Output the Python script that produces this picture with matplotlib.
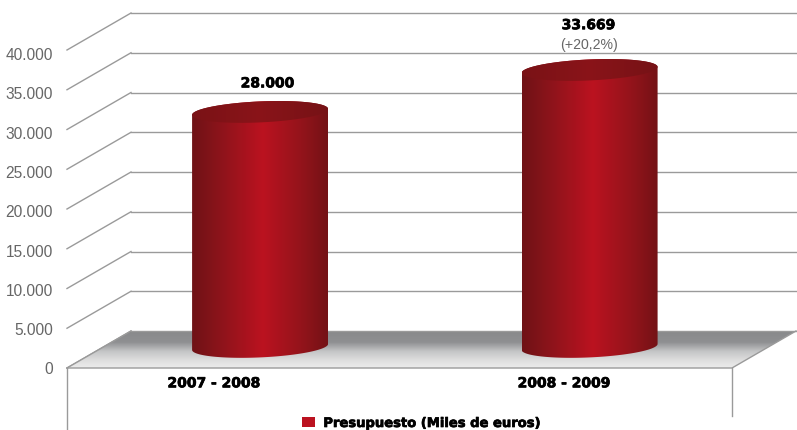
import numpy as np
import matplotlib
matplotlib.use("Agg")
import matplotlib.pyplot as plt
import matplotlib.patheffects as pe
from matplotlib.colors import LinearSegmentedColormap
from matplotlib.patches import Patch, Polygon
from matplotlib.transforms import ScaledTranslation

categories = ["2007 - 2008", "2008 - 2009"]
drawn_heights = [29560, 34840]
value_labels = ["28.000", "33.669"]
change_label = "(+20,2%)"
y_ticks = [0, 5000, 10000, 15000, 20000, 25000, 30000, 35000, 40000]
y_tick_labels = ["0", "5.000", "10.000", "15.000", "20.000", "25.000", "30.000", "35.000", "40.000"]
legend_label = "Presupuesto (Miles de euros)"

W, H = 797, 431
fig = plt.figure(figsize=(W / 100, H / 100), dpi=100)
ax = fig.add_axes([67 / W, (H - 369) / H, 665 / W, 318 / H])
ax.set_xlim(-0.5, 1.5)
ax.set_ylim(0, 40000)
for s in ax.spines.values():
    s.set_visible(False)
ax.patch.set_visible(False)

DX = 64 / 332.5      # depth projection, category units
DY = 37 / 0.00795    # depth projection, value units
GRID = "#9a9a9a"
xl, xr = -0.5, 1.5
heavy = [pe.withStroke(linewidth=0.5, foreground="black")]

# y axis
ax.set_yticks(y_ticks, y_tick_labels, fontfamily="Liberation Sans", fontsize=11.2, color="#666666")
ax.tick_params(axis="y", length=0, pad=10)
for v, lab in zip(y_ticks, ax.get_yticklabels()):
    lab.set_transform(lab.get_transform()
                      + ScaledTranslation(0, (0.5 - 3.5 * v / 40000) / 100, fig.dpi_scale_trans))
# category labels
ax.set_xticks([-0.058, 0.995], categories, fontfamily="DejaVu Sans", fontweight="bold",
              fontsize=10, color="black")
ax.tick_params(axis="x", length=0, pad=6)
for lab in ax.get_xticklabels():
    lab.set_path_effects(heavy)

# grid: back wall + left wall
for v in y_ticks:
    if v > 0:
        ax.plot([xl + DX, xr + DX], [v + DY, v + DY], color=GRID, lw=1, clip_on=False, zorder=1)
    ax.plot([xl, xl + DX], [v, v + DY], color=GRID, lw=1, clip_on=False, zorder=1)

# floor
floor_pts = [(xl, 0), (xr, 0), (xr + DX, DY), (xl + DX, DY)]
floor = Polygon(floor_pts, closed=True, transform=ax.transData, fc="none", ec="none")
ax.add_patch(floor)
floor_cmap = LinearSegmentedColormap.from_list(
    "floor", [(0, "#88898b"), (0.30, "#8f9092"), (0.55, "#c4c5c6"), (0.8, "#dfdfdf"), (1, "#ececec")])
img = ax.imshow(np.linspace(0, 1, 128)[:, None], cmap=floor_cmap, aspect="auto", origin="upper",
                extent=[xl, xr + DX, 0, DY], zorder=2)
img.set_clip_path(floor)
img.set_clip_box(fig.bbox)
ax.plot([xl, xr, xr + DX], [0, 0, DY], color=GRID, lw=1, clip_on=False, zorder=3)
ax.plot([xl + DX, xr + DX], [DY, DY], color=GRID, lw=1, clip_on=False, zorder=3)
ax.plot([xl, xl + DX], [0, DY], color=GRID, lw=1, clip_on=False, zorder=3)
# walls below floor line
ax.plot([xl, xl], [0, -7800], color=GRID, lw=1, clip_on=False, zorder=3)
ax.plot([xr, xr], [0, -6040], color=GRID, lw=1, clip_on=False, zorder=3)

# cylinders
bar_front_x = [-0.029, 0.962]
depth = 0.57
A = 68 / 332.5
B = 1320
SHEAR = 377
body_cmap = LinearSegmentedColormap.from_list(
    "body", [(0, "#6f1216"), (0.22, "#8e141b"), (0.52, "#bb1220"), (0.8, "#94141b"), (1, "#741216")])
top_cmap = LinearSegmentedColormap.from_list(
    "top", [(0, "#7a1216"), (0.5, "#8a1419"), (1, "#761216")])
t = np.linspace(0, 2 * np.pi, 200)


def ellipse(cx, cy):
    return cx + A * np.cos(t), cy + B * np.sin(t) + SHEAR * np.cos(t)


for x0, h in zip(bar_front_x, drawn_heights):
    cx = x0 + depth * DX
    y0 = depth * DY
    yt = y0 + h
    tb = np.linspace(np.pi, 2 * np.pi, 100)
    bx = cx + A * np.cos(tb)
    by = y0 + B * np.sin(tb) + SHEAR * np.cos(tb)
    tt = np.linspace(0, np.pi, 100)
    ux = cx + A * np.cos(tt)
    uy = yt + B * np.sin(tt) + SHEAR * np.cos(tt)
    body = Polygon(np.column_stack([np.r_[bx, ux], np.r_[by, uy]]), closed=True, fc="none", ec="none")
    ax.add_patch(body)
    im = ax.imshow(np.linspace(0, 1, 256)[None, :], cmap=body_cmap, aspect="auto",
                   extent=[cx - A, cx + A, y0 - 2 * B, yt + 2 * B], zorder=4)
    im.set_clip_path(body)
    im.set_clip_box(fig.bbox)
    ex, ey = ellipse(cx, yt)
    cap = Polygon(np.column_stack([ex, ey]), closed=True, fc="none", ec="none")
    ax.add_patch(cap)
    im2 = ax.imshow(np.linspace(0, 1, 64)[None, :], cmap=top_cmap, aspect="auto",
                    extent=[cx - A, cx + A, yt - 2 * B, yt + 2 * B], zorder=5)
    im2.set_clip_path(cap)
    im2.set_clip_box(fig.bbox)

ax.set_xlim(-0.5, 1.5)
ax.set_ylim(0, 40000)

# value labels
pos = [(0.103, 35800), (1.068, 43120)]
for (x, y), s in zip(pos, value_labels):
    ax.text(x, y, s, ha="center", va="center", fontfamily="DejaVu Sans", fontweight="bold",
            fontsize=10, color="black", clip_on=False, zorder=6, path_effects=heavy)
ax.text(1.071, 40700, change_label, ha="center", va="center", fontfamily="Liberation Sans",
        fontsize=10.2, color="#666666", clip_on=False, zorder=6)

# legend
leg = fig.legend(handles=[Patch(fc="#bb1220", ec="none", label=legend_label)],
                 loc="center", bbox_to_anchor=(421.5 / W, (H - 424.5) / H), frameon=False,
                 prop={"family": "DejaVu Sans", "weight": "bold", "size": 9.45},
                 handlelength=1.05, handleheight=0.8, handletextpad=0.6, borderpad=0, labelcolor="black")
for txt in leg.get_texts():
    txt.set_path_effects(heavy)

fig.savefig("out.png", dpi=100)
